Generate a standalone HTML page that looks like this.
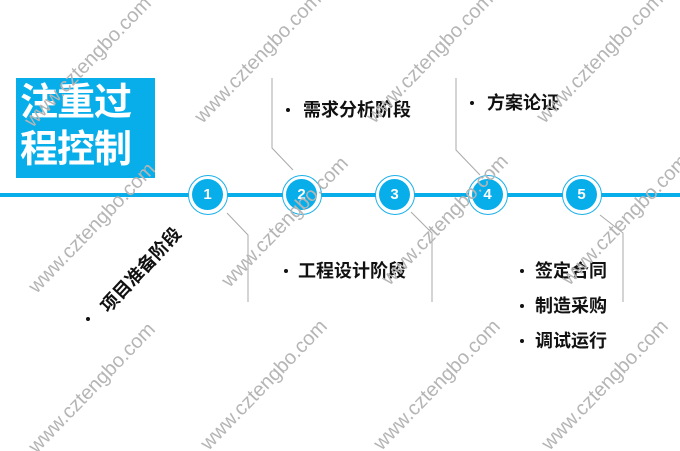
<!DOCTYPE html>
<html><head><meta charset="utf-8"><style>
html,body{margin:0;padding:0;background:#fff;width:680px;height:451px;overflow:hidden;}
#c{position:relative;width:680px;height:451px;overflow:hidden;font-family:"Liberation Sans","Noto Sans CJK SC",sans-serif;}
.wm{position:absolute;width:220px;margin-left:-110px;margin-top:-12px;text-align:center;font-size:20px;line-height:24px;color:#b5b5b5;transform:rotate(-46deg);white-space:nowrap;}
.t{position:absolute;font-size:18px;font-weight:bold;color:#111;white-space:nowrap;line-height:20px;}
.b{position:absolute;width:4px;height:4px;border-radius:50%;background:#111;}
.circ{position:absolute;width:38px;height:38px;border-radius:50%;border:1.5px solid #1ab0ea;background:#fff;margin:-20.5px 0 0 -20.5px;}
.circ div{position:absolute;left:3.5px;top:3.5px;width:31px;height:31px;border-radius:50%;background:#08aeea;color:#fff;font-weight:bold;font-size:15px;line-height:31px;text-align:center;}
</style></head><body><div id="c">
<div style="position:absolute;left:16px;top:78px;width:139px;height:100px;background:#08aeea;"></div>
<div style="position:absolute;left:20px;top:80px;color:#fff;font-size:38px;font-weight:bold;line-height:47px;letter-spacing:-1px;">注重过<br>程控制</div>
<div style="position:absolute;left:0;top:193px;width:680px;height:4px;background:#08aeea;"></div>
<svg style="position:absolute;left:0;top:0" width="680" height="451">
<g stroke="#aaa" stroke-width="1" fill="none">
<polyline points="227,213 248,235 248,302"/>
<polyline points="272,78 272,148 293,170"/>
<polyline points="411,212 432,233 432,302"/>
<polyline points="456,78 456,150 480,175"/>
<polyline points="600,215 623,233 623,302"/>
</g></svg>
<div class="circ" style="left:208px;top:195px"><div>1</div></div>
<div class="circ" style="left:302px;top:195px"><div>2</div></div>
<div class="circ" style="left:395px;top:195px"><div>3</div></div>
<div class="circ" style="left:488px;top:195px"><div>4</div></div>
<div class="circ" style="left:582px;top:195px"><div>5</div></div>
<div class="b" style="left:286px;top:108px"></div><div class="t" style="left:303px;top:100px">需求分析阶段</div>
<div class="b" style="left:470px;top:101px"></div><div class="t" style="left:487px;top:93px">方案论证</div>
<div class="b" style="left:284px;top:269px"></div><div class="t" style="left:298px;top:261px">工程设计阶段</div>
<div class="b" style="left:520px;top:269px"></div><div class="t" style="left:535px;top:261px">签定合同</div>
<div class="b" style="left:520px;top:304px"></div><div class="t" style="left:535px;top:296px">制造采购</div>
<div class="b" style="left:520px;top:339px"></div><div class="t" style="left:535px;top:331px">调试运行</div>
<div class="b" style="left:86px;top:317px"></div>
<div class="t" style="left:83px;top:260px;width:116px;text-align:center;transform:rotate(-47deg);">项目准备阶段</div>
<div class="wm" style="left:88px;top:62px">www.cztengbo.com</div>
<div class="wm" style="left:258px;top:58px">www.cztengbo.com</div>
<div class="wm" style="left:430px;top:58px">www.cztengbo.com</div>
<div class="wm" style="left:600px;top:58px">www.cztengbo.com</div>
<div class="wm" style="left:92px;top:228px">www.cztengbo.com</div>
<div class="wm" style="left:285px;top:222px">www.cztengbo.com</div>
<div class="wm" style="left:445px;top:220px">www.cztengbo.com</div>
<div class="wm" style="left:625px;top:220px">www.cztengbo.com</div>
<div class="wm" style="left:92px;top:388px">www.cztengbo.com</div>
<div class="wm" style="left:264px;top:385px">www.cztengbo.com</div>
<div class="wm" style="left:437px;top:385px">www.cztengbo.com</div>
<div class="wm" style="left:605px;top:385px">www.cztengbo.com</div>
</div></body></html>
